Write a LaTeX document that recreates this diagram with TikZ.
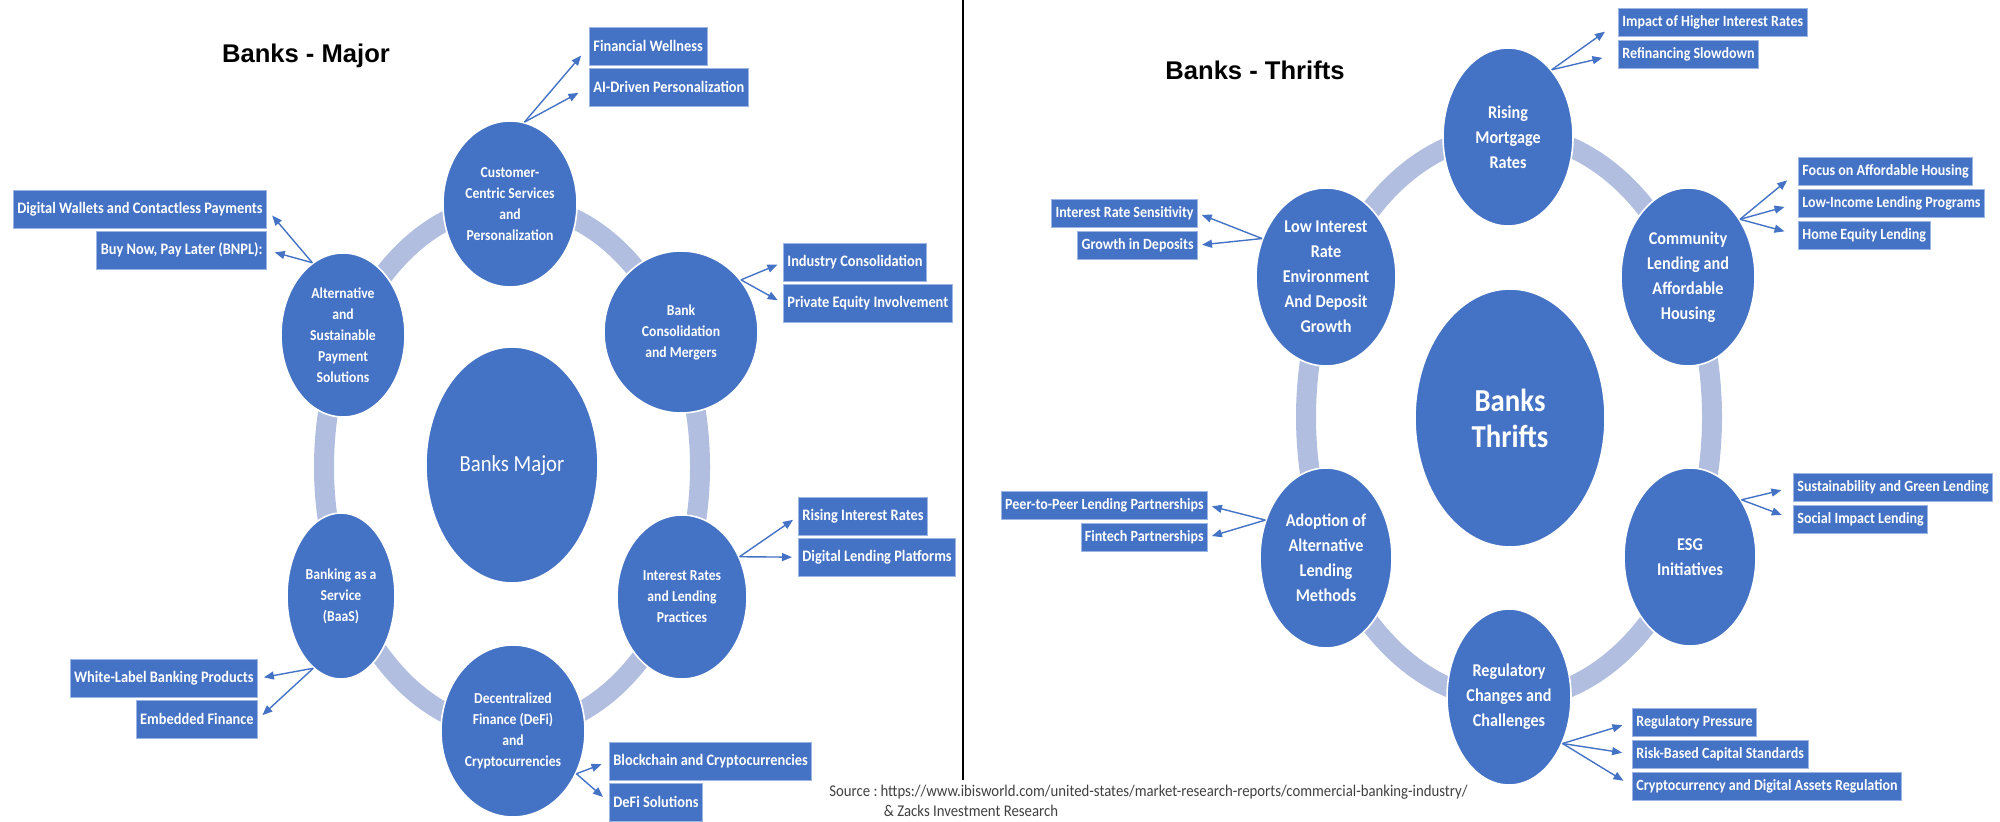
\documentclass[tikz,border=0pt]{standalone}
\usepackage{fontspec}
\setmainfont[FakeStretch=0.9]{Carlito}
\newfontfamily\headfont{Liberation Sans}
\usetikzlibrary{arrows.meta,shapes.geometric,positioning}
\definecolor{ofblue}{HTML}{4472C4}
\definecolor{ofring}{HTML}{B1BEE0}
\definecolor{ofedge}{HTML}{9DB5E3}
\definecolor{srcgray}{HTML}{404040}

\begin{document}
\begin{tikzpicture}[x=0.5pt,y=-0.5pt,align=center,node distance=1pt]
\tikzstyle{hub}=[ellipse,fill=ofblue,draw=white,thick,text=white,inner sep=0pt]
\tikzstyle{topic}=[hub,font=\bfseries\fontsize{7.6}{10.5}\selectfont]
\tikzstyle{theme}=[hub,font=\bfseries\fontsize{9}{12.5}\selectfont]
\tikzstyle{tagL}=[rectangle,fill=ofblue,draw=ofedge,text=white,inner xsep=2pt,inner ysep=0pt,minimum height=19pt,font=\bfseries\fontsize{8}{9}\selectfont]
\tikzstyle{tagR}=[tagL,minimum height=14pt,font=\bfseries\fontsize{7.8}{8.5}\selectfont]
\tikzstyle{ring}=[draw=ofring,line width=10pt]
\tikzstyle{link}=[->,>={Triangle[length=5pt,width=4pt]},draw=ofblue,line width=0.7pt,shorten >=4pt]
\tikzstyle{heading}=[font=\headfont\bfseries\fontsize{12.8}{15}\selectfont]

\useasboundingbox (0,0) rectangle (2000,822);

% rings
\draw[ring] (512,467) ellipse [x radius=94pt, y radius=131.5pt];
\draw[ring] (1509,417) ellipse [x radius=101.5pt, y radius=141.5pt];

% divider
\draw[line width=0.6pt] (963,0) -- (963,780);

% left: banks major
\node[heading] (tmaj) at (306,56) {Banks - Major};
\node[hub,minimum width=86pt,minimum height=118pt,font=\fontsize{11.5}{14}\selectfont] (major) at (512,465) {Banks Major};
\node[topic,minimum width=67pt,minimum height=83pt] (cust) at (510,204) {Customer-\\Centric Services\\and\\Personalization};
\node[topic,minimum width=77pt,minimum height=81pt] (bank) at (681,332) {Bank\\Consolidation\\and Mergers};
\node[topic,minimum width=65pt,minimum height=82pt] (rate) at (682,597) {Interest Rates\\and Lending\\Practices};
\node[topic,minimum width=72pt,minimum height=86pt] (defi) at (513,731) {Decentralized\\Finance (DeFi)\\and\\Cryptocurrencies};
\node[topic,minimum width=54pt,minimum height=83pt] (baas) at (341,596) {Banking as a\\Service\\(BaaS)};
\node[topic,minimum width=62pt,minimum height=82pt] (alt) at (343,335) {Alternative\\and\\Sustainable\\Payment\\Solutions};

\node[tagL,anchor=north west] (fw) at (589,27) {Financial Wellness};
\node[tagL,below right=1pt and 0pt of fw.south west] (ai) {AI-Driven Personalization};
\node[tagL,anchor=north east] (dw) at (267,190) {Digital Wallets and Contactless Payments};
\node[tagL,below left=1pt and 0pt of dw.south east] (bn) {Buy Now, Pay Later (BNPL):};
\node[tagL,anchor=north west] (ic) at (783,243) {Industry Consolidation};
\node[tagL,below right=1pt and 0pt of ic.south west] (pe) {Private Equity Involvement};
\node[tagL,anchor=north west] (ri) at (798,497) {Rising Interest Rates};
\node[tagL,below right=1pt and 0pt of ri.south west] (dl) {Digital Lending Platforms};
\node[tagL,anchor=north east] (wl) at (258,659) {White-Label Banking Products};
\node[tagL,below left=1pt and 0pt of wl.south east] (ef) {Embedded Finance};
\node[tagL,anchor=north west] (bk) at (609,742) {Blockchain and Cryptocurrencies};
\node[tagL,below right=1pt and 0pt of bk.south west] (ds) {DeFi Solutions};

\path (cust.80) edge [link,shorten >=6pt] (fw.west) edge [link,shorten >=6pt] (ai.west);
\path (alt.113) edge [link] (dw.east) edge [link] (bn.east);
\path (bank.41) edge [link,shorten >=3pt] (ic.west) edge [link,shorten >=3pt] (pe.west);
\path (rate.35) edge [link,shorten >=3pt] (ri.west) edge [link,shorten >=3pt] (dl.west);
\path (baas.249) edge [link,shorten >=3pt] (wl.east) edge [link,shorten >=3pt] (ef.east);
\path (defi.326) edge [link] (bk.west) edge [link] (ds.west);

% right: banks thrifts
\node[heading] (tthr) at (1255,70) {Banks - Thrifts};
\node[hub,minimum width=95pt,minimum height=129pt,font=\bfseries\fontsize{16}{18}\selectfont] (thrift) at (1510,418) {Banks\\Thrifts};
\node[theme,minimum width=65pt,minimum height=89pt] (mort) at (1508,137) {Rising\\Mortgage\\Rates};
\node[theme,minimum width=67pt,minimum height=89pt] (comm) at (1688,277) {Community\\Lending and\\Affordable\\Housing};
\node[theme,minimum width=66pt,minimum height=89pt] (esg) at (1690,557) {ESG\\Initiatives};
\node[theme,minimum width=62pt,minimum height=88pt] (regu) at (1509,697) {Regulatory\\Changes and\\Challenges};
\node[theme,minimum width=66pt,minimum height=90pt] (adop) at (1326,558) {Adoption of\\Alternative\\Lending\\Methods};
\node[theme,minimum width=70pt,minimum height=89pt] (low) at (1326,277) {Low Interest\\Rate\\Environment\\And Deposit\\Growth};

\node[tagR,anchor=north west] (im) at (1618,8) {Impact of Higher Interest Rates};
\node[tagR,below right=1.5pt and 0pt of im.south west] (rf) {Refinancing Slowdown};
\node[tagR,anchor=north west] (fa) at (1798,157) {Focus on Affordable Housing};
\node[tagR,below right=1.5pt and 0pt of fa.south west] (lp) {Low-Income Lending Programs};
\node[tagR,below right=1.5pt and 0pt of lp.south west] (he) {Home Equity Lending};
\node[tagR,anchor=north east] (is) at (1198,199) {Interest Rate Sensitivity};
\node[tagR,below left=1.5pt and 0pt of is.south east] (gd) {Growth in Deposits};
\node[tagR,anchor=north west] (sg) at (1793,473) {Sustainability and Green Lending};
\node[tagR,below right=1.5pt and 0pt of sg.south west] (si) {Social Impact Lending};
\node[tagR,anchor=north east] (pp) at (1208,491) {Peer-to-Peer Lending Partnerships};
\node[tagR,below left=1.5pt and 0pt of pp.south east] (fp) {Fintech Partnerships};
\node[tagR,anchor=north west] (rp) at (1632,708) {Regulatory Pressure};
\node[tagR,below right=1.5pt and 0pt of rp.south west] (rb) {Risk-Based Capital Standards};
\node[tagR,below right=1.5pt and 0pt of rb.south west] (cr) {Cryptocurrency and Digital Assets Regulation};

\path (mort.57) edge [link,shorten >=8pt] (im.west) edge [link,shorten >=8pt] (rf.west);
\path (low.149) edge [link,shorten >=2pt] (is.east) edge [link,shorten >=2pt] (gd.east);
\path (comm.48) edge [link,shorten >=7pt] (fa.west) edge [link,shorten >=7pt] (lp.west) edge [link,shorten >=7pt] (he.west);
\path (esg.48) edge [link,shorten >=6pt] (sg.west) edge [link,shorten >=6pt] (si.west);
\path (adop.148) edge [link,shorten >=2pt] (pp.east) edge [link,shorten >=2pt] (fp.east);
\path (regu.319) edge [link,shorten >=5pt] (rp.west) edge [link,shorten >=5pt] (rb.west) edge [link,shorten >=5pt] (cr.west);

% source
\node[anchor=north west,inner sep=0pt,text=srcgray,font=\fontsize{8.2}{9.6}\selectfont] (src) at (829,783)
  {\begin{tabular}{@{}l@{\hspace{1.5pt}}l@{}}Source : & https://www.ibisworld.com/united-states/market-research-reports/commercial-banking-industry/\\ & \ \& Zacks Investment Research\end{tabular}};
\end{tikzpicture}
\end{document}
